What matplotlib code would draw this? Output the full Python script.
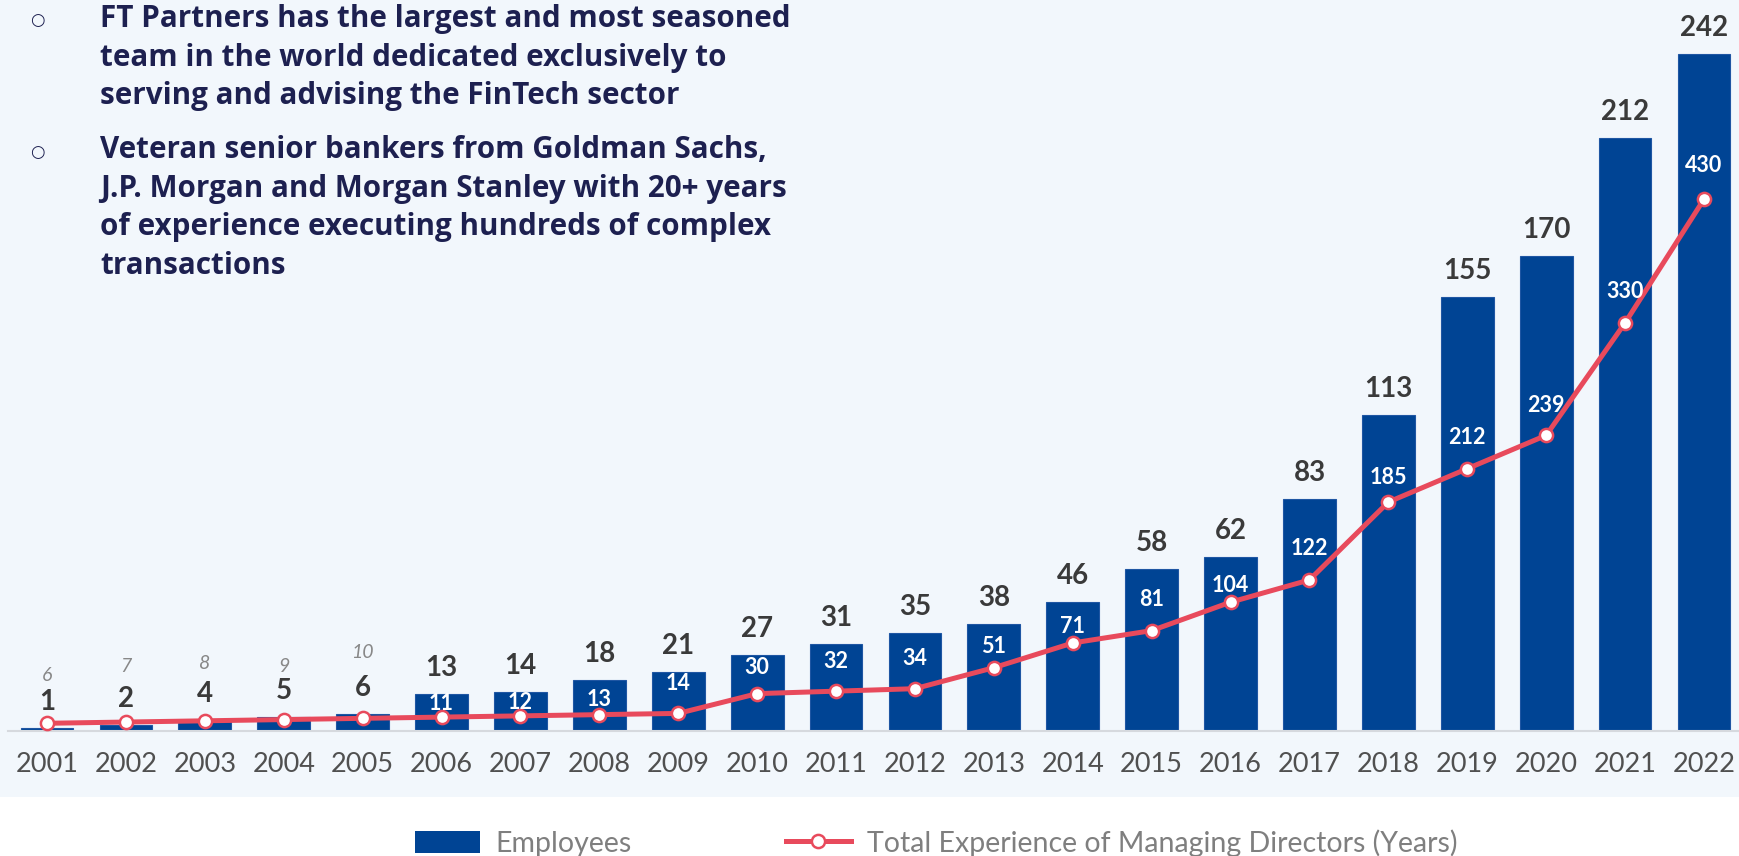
import matplotlib.pyplot as plt
from matplotlib.patches import Rectangle, Patch
from matplotlib.lines import Line2D

plt.rcParams['font.family'] = ['Lato', 'DejaVu Sans']

# data
years = [str(y) for y in range(2001, 2023)]
employees = [1, 2, 4, 5, 6, 13, 14, 18, 21, 27, 31, 35, 38, 46, 58, 62, 83, 113, 155, 170, 212, 242]
experience = [6, 7, 8, 9, 10, 11, 12, 13, 14, 30, 32, 34, 51, 71, 81, 104, 122, 185, 212, 239, 330, 430]

bullets = [
    ["FT Partners has the largest and most seasoned",
     "team in the world dedicated exclusively to",
     "serving and advising the FinTech sector"],
    ["Veteran senior bankers from Goldman Sachs,",
     "J.P. Morgan and Morgan Stanley with 20+ years",
     "of experience executing hundreds of complex",
     "transactions"],
]

# label offsets above each line point (px)
exp_offsets = [48, 56, 57, 53, 66, 14, 13, 15, 30, 26, 30, 30, 21, 16, 31, 17, 31, 25, 31, 30, 31, 34]

bar_color = '#004494'
line_color = '#E84A5C'
bg = '#F2F7FC'
navy = '#1D2050'

W, H = 1739, 856
fig = plt.figure(figsize=(W / 100, H / 100), dpi=100)
fig.patch.set_facecolor('white')
fig.patches.append(Rectangle((0, 1 - 797 / H), 1, 797 / H, transform=fig.transFigure,
                             facecolor=bg, edgecolor='none', zorder=-5))

base = 730.7
ax = fig.add_axes([7.6 / W, 1 - base / H, 1735.8 / W, base / H])
ax.patch.set_visible(False)
x = list(range(len(years)))

ax.bar(x, employees, width=0.67, color=bar_color, edgecolor='#1f56a3', linewidth=0.8, zorder=2)
ax.set_xlim(-0.5, 21.5)
ax.set_ylim(0, base / 2.795)
ax.set_yticks([])
for s in ['top', 'right', 'left']:
    ax.spines[s].set_visible(False)
ax.spines['bottom'].set_color('#d6d9de')
ax.spines['bottom'].set_linewidth(1.5)
ax.set_xticks(x)
ax.set_xticklabels(years, fontsize=19.5, color='#505050')
ax.tick_params(axis='x', length=0, pad=15.5)

for i, v in enumerate(employees):
    ax.annotate(str(v), (i, v), xytext=(0, 26 * 0.72), textcoords='offset points',
                ha='center', va='center', fontsize=20, fontweight='bold', color='#3a3a3a')

ax2 = ax.twinx()
ax2.set_ylim(0, base / 1.2358)
ax2.axis('off')
ax2.plot(x, experience, color=line_color, linewidth=3.6, marker='o', markersize=9.5,
         markerfacecolor='white', markeredgecolor=line_color, markeredgewidth=1.8, zorder=3)

for i, v in enumerate(experience):
    off = exp_offsets[i] * 0.72
    if i < 5:
        ax2.annotate(str(v), (i, v), xytext=(0, off), textcoords='offset points',
                     ha='center', va='center', fontsize=14, fontstyle='italic', color='#888888')
    else:
        ax2.annotate(str(v), (i, v), xytext=(0, off), textcoords='offset points',
                     ha='center', va='center', fontsize=15.5, fontweight='bold', color='white')

# bullet text
first_baselines = [27, 158]
bullet_centers = [20, 152]
for lines, b0, bc in zip(bullets, first_baselines, bullet_centers):
    fig.text(37.8 / W, 1 - bc / H, '○', fontsize=12, color=navy, ha='center', va='center',
             family=['DejaVu Sans'])
    for k, line in enumerate(lines):
        fig.text(100 / W, 1 - (b0 + 38.7 * k) / H, line, fontsize=21.3, fontweight='bold',
                 color=navy, ha='left', va='baseline', family=['Open Sans', 'DejaVu Sans'])

# legend
handles = [Patch(facecolor=bar_color, edgecolor='none'),
           Line2D([0], [0], color=line_color, linewidth=3.6, marker='o', markersize=9.5,
                  markerfacecolor='white', markeredgecolor=line_color, markeredgewidth=1.8)]
leg = fig.legend(handles, ['Employees', 'Total Experience of Managing Directors (Years)'],
                 loc='center', bbox_to_anchor=(936 / W, 13 / H), ncol=2, frameon=False,
                 fontsize=20.5, handlelength=2.3, handleheight=0.8, handletextpad=0.55,
                 columnspacing=5.4, borderpad=0)
for t in leg.get_texts():
    t.set_color('#7f7f7f')

plt.savefig('out.png', dpi=100)
